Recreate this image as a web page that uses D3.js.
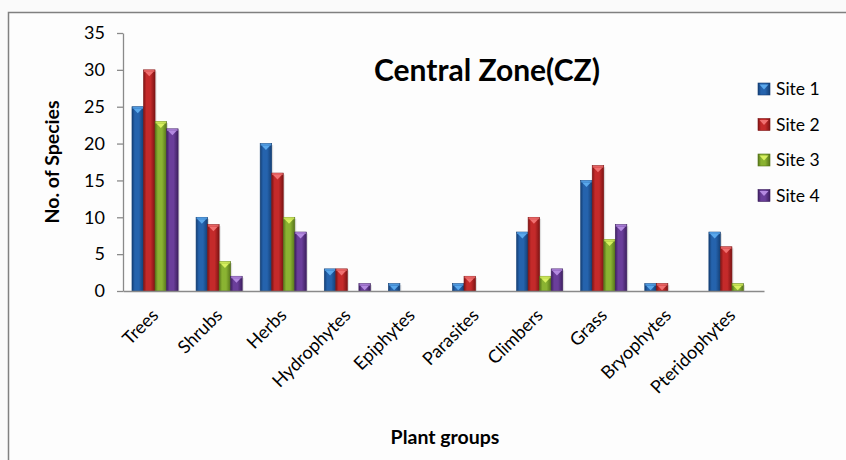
<!DOCTYPE html>
<html>
<head>
<meta charset="utf-8">
<script src="https://cdn.jsdelivr.net/npm/d3@7"></script>
<style>
  html, body { margin: 0; padding: 0; background: #fafafa; }
  svg { display: block; }
  text { font-family: Lato, "Open Sans", sans-serif; fill: #000; }
</style>
</head>
<body>
<svg id="chart" width="846" height="460"></svg>
<script>
// Plant groups and species counts per site
const categories = ["Trees", "Shrubs", "Herbs", "Hydrophytes", "Epiphytes",
  "Parasites", "Climbers", "Grass", "Bryophytes", "Pteridophytes"];
const seriesNames = ["Site 1", "Site 2", "Site 3", "Site 4"];
const site1 = [25, 10, 20, 3, 1, 1, 8, 15, 1, 8];
const site2 = [30, 9, 16, 3, 0, 2, 10, 17, 1, 6];
const site3 = [23, 4, 10, 0, 0, 0, 2, 7, 0, 1];
const site4 = [22, 2, 8, 1, 0, 0, 3, 9, 0, 0];
const yTicks = [0, 5, 10, 15, 20, 25, 30, 35];

const seriesValues = [site1, site2, site3, site4];
const palette = [
  { base: "#2563ad", dark: "#143f75", light: "#5aa8ec" },
  { base: "#c42a2a", dark: "#7e1414", light: "#f07070" },
  { base: "#8ab332", dark: "#56741a", light: "#d8f060" },
  { base: "#6a3e9a", dark: "#3e2060", light: "#b48ae0" }
];

const svg = d3.select("#chart");
const W = 846, H = 460;

// chart frame
svg.append("rect").attr("x", 8.5).attr("y", 12.5).attr("width", W + 10).attr("height", H + 10)
  .attr("fill", "#fdfdfd").attr("stroke", "#808080").attr("stroke-width", 1.5);

const plot = { left: 123, right: 764, top: 33, bottom: 291 };

const x = d3.scaleBand().domain(categories).range([plot.left, plot.right]).paddingInner(0.28).paddingOuter(0.14);
const xs = d3.scaleBand().domain(seriesNames).range([0, x.bandwidth()]);
const y = d3.scaleLinear().domain([0, 35]).range([plot.bottom, plot.top]);

// gradients per series
const defs = svg.append("defs");
palette.forEach((c, i) => {
  const g = defs.append("linearGradient").attr("id", "grad" + i)
    .attr("x1", "0%").attr("x2", "100%").attr("y1", "0%").attr("y2", "0%");
  g.append("stop").attr("offset", "0%").attr("stop-color", c.dark);
  g.append("stop").attr("offset", "25%").attr("stop-color", c.base);
  g.append("stop").attr("offset", "60%").attr("stop-color", c.base);
  g.append("stop").attr("offset", "100%").attr("stop-color", c.dark);
});

// y axis
const yAxis = svg.append("g").attr("transform", `translate(${plot.left},0)`)
  .call(d3.axisLeft(y).tickValues(yTicks).tickSize(6).tickSizeOuter(0).tickPadding(12));
yAxis.select(".domain").attr("stroke", "#8a8a8a").attr("stroke-width", 1.3);
yAxis.selectAll(".tick line").attr("stroke", "#8a8a8a").attr("stroke-width", 1.3);
yAxis.selectAll(".tick text").style("font-size", "18px").style("font-family", "Lato, sans-serif").attr("fill", "#000");

// bars
const groups = svg.append("g").selectAll("g").data(categories).join("g")
  .attr("transform", d => `translate(${x(d)},0)`);

seriesNames.forEach((s, si) => {
  const vals = seriesValues[si];
  groups.each(function (cat, ci) {
    const v = vals[ci];
    if (v <= 0) return;
    const g = d3.select(this);
    const bx = xs(s), bw = xs.bandwidth();
    const top = y(v), h = y(0) - y(v);
    // soft shadow
    g.append("rect").attr("x", bx + 1.5).attr("y", top + 1.5).attr("width", bw).attr("height", h - 1.5)
      .attr("fill", "#000").attr("opacity", 0.12);
    g.append("rect").attr("x", bx).attr("y", top).attr("width", bw).attr("height", h)
      .attr("fill", `url(#grad${si})`).attr("stroke", palette[si].dark).attr("stroke-width", 0.6);
    // bevelled cap
    g.append("rect").attr("x", bx + 0.5).attr("y", top).attr("width", bw - 1).attr("height", 2)
      .attr("fill", palette[si].light).attr("opacity", 0.8);
    g.append("path")
      .attr("d", `M${bx + 1.5},${top + 2} L${bx + bw - 1.5},${top + 2} L${bx + bw / 2},${top + 6.5} Z`)
      .attr("fill", palette[si].light);
  });
});

// x axis
const xAxis = svg.append("g").attr("transform", `translate(0,${plot.bottom})`)
  .call(d3.axisBottom(x).tickSize(0).tickSizeOuter(0).tickFormat(""));
xAxis.select(".domain").attr("stroke", "#8a8a8a").attr("stroke-width", 1.5);

// rotated category labels
svg.append("g").selectAll("text").data(categories).join("text")
  .attr("transform", d => `translate(${x(d) + x.bandwidth() / 2},${plot.bottom + 21}) rotate(-45)`)
  .attr("text-anchor", "end")
  .attr("dy", "0.35em")
  .style("font-size", "18px")
  .text(d => d);

// title
svg.append("text").attr("x", 487).attr("y", 81).attr("text-anchor", "middle")
  .style("font-size", "30px").style("font-weight", "bold").text("Central Zone(CZ)");

// axis titles
svg.append("text").attr("transform", "translate(59,162) rotate(-90)").attr("text-anchor", "middle")
  .style("font-size", "19.5px").style("font-weight", "bold").text("No. of Species");
svg.append("text").attr("x", 445).attr("y", 444).attr("text-anchor", "middle")
  .style("font-size", "19.5px").style("font-weight", "bold").text("Plant groups");

// legend
const legend = svg.append("g").selectAll("g").data(seriesNames).join("g")
  .attr("transform", (d, i) => `translate(758,${89 + i * 35.5})`);
legend.append("rect").attr("x", 0).attr("y", -6).attr("width", 12).attr("height", 12)
  .attr("fill", (d, i) => `url(#grad${i})`).attr("stroke", (d, i) => palette[i].dark).attr("stroke-width", 0.6);
legend.append("path").attr("d", "M1.5,-4.5 L10.5,-4.5 L6,0.5 Z").attr("fill", (d, i) => palette[i].light);
legend.append("text").attr("x", 18).attr("y", 0).attr("dy", "0.35em")
  .style("font-size", "17.5px").text(d => d);
</script>
</body>
</html>
